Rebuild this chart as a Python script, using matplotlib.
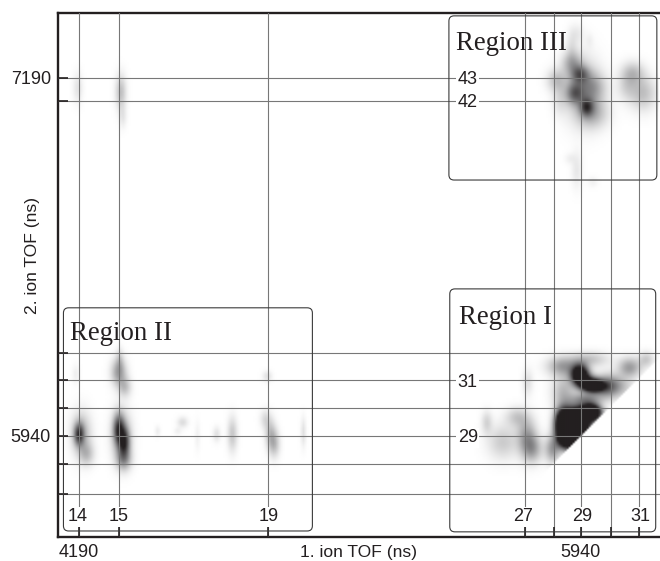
import numpy as np
import matplotlib
matplotlib.use("Agg")
import matplotlib.pyplot as plt
from matplotlib.colors import LinearSegmentedColormap
from matplotlib.patches import FancyBboxPatch

# tick / grid positions (ns)
x_ticks = [4190, 4330, 4850, 5745, 5846, 5940, 6045, 6142]
x_tick_labels = ["4190", "", "", "", "", "5940", "", ""]
y_ticks = [5738, 5842, 5940, 6038, 6135, 6230, 7109, 7190]
y_tick_labels = ["", "", "5940", "", "", "", "", "7190"]

# coincidence islands: x, y, sigma_x, sigma_y, intensity
region_ii = [
    (4187, 5943, 9, 20, .70), (4195, 5945, 18, 40, .32), (4214, 5874, 14, 21, .25),
    (4326, 5961, 10, 28, .70), (4345, 5916, 10, 25, .70), (4335, 5940, 18, 45, .35),
    (4343, 5856, 14, 21, .40),
    (4326, 6160, 14, 25, .42), (4347, 6108, 12, 18, .25), (4329, 6205, 7, 21, .15),
    (4176, 6153, 7, 18, .07), (4462, 5954, 5, 10, .08), (4549, 5985, 10, 10, .15),
    (4532, 5954, 7, 7, .07), (4601, 5937, 5, 28, .06), (4668, 5943, 7, 14, .13),
    (4723, 5943, 9, 32, .24), (4856, 5943, 10, 28, .26), (4870, 5909, 10, 25, .26),
    (4838, 5996, 10, 18, .15), (4845, 6146, 9, 10, .13), (4971, 5950, 5, 28, .13),
]
top_left = [(4183, 7155, 9, 28, .12), (4333, 7141, 10, 32, .27), (4340, 7053, 7, 21, .10)]
region_i = [
    (5880, 5975, 15, 28, 2.0), (5926, 5985, 22, 24, 2.8), (5975, 6020, 18, 14, 2.2),
    (5900, 5925, 18, 18, 1.6), (5937, 6153, 16, 18, 1.5), (5985, 6112, 20, 12, 1.4),
    (5960, 6125, 20, 14, .70),
    (5877, 6181, 28, 18, .40), (5971, 6205, 35, 14, .25), (5880, 6090, 21, 32, .30),
    (6031, 6111, 21, 21, .45), (6111, 6177, 21, 18, .42), (6066, 6111, 28, 21, .32),
    (6170, 6205, 14, 14, .22), (5961, 6066, 28, 12, .45), (5842, 5891, 14, 25, .42),
    (5752, 5933, 18, 35, .40), (5773, 5891, 18, 25, .32), (5717, 6003, 21, 18, .22),
    (5612, 5985, 10, 21, .18), (5668, 5916, 28, 32, .22), (5755, 6125, 10, 25, .13),
]
region_iii = [
    (5937, 7203, 16, 16, .50), (5919, 7137, 16, 20, .50), (5961, 7088, 12, 16, .55),
    (5909, 7242, 18, 21, .30), (5982, 7158, 25, 28, .30), (5982, 7067, 28, 28, .30),
    (5945, 7150, 32, 60, .28),
    (5856, 7182, 18, 21, .25), (5867, 7113, 14, 28, .12), (6121, 7207, 21, 21, .27),
    (6156, 7137, 25, 32, .27), (6100, 7158, 18, 25, .15), (5926, 7346, 14, 18, .08),
    (5909, 7298, 10, 28, .10), (5971, 7322, 7, 14, .05), (5926, 6868, 10, 35, .10),
    (5982, 6826, 10, 10, .06), (5902, 6908, 10, 10, .06),
]
islands = region_ii + top_left + region_i + region_iii

# x0, x1, y0, y1 of each frame
boxes = [(4136, 5004, 5608, 6387), (5483, 6201, 5605, 6453), (5480, 6205, 6833, 7406)]
region_names = [("Region II", 4158, 6296), ("Region I", 5514, 6352), ("Region III", 5503, 7310)]
# inner labels: text, x, y
inner_labels = [("14", 4184, 5664), ("15", 4330, 5664), ("19", 4850, 5664),
                ("27", 5738, 5664), ("29", 5944, 5664), ("31", 6149, 5664),
                ("29", 5546, 5940), ("31", 5546, 6135),
                ("43", 5546, 7190), ("42", 5546, 7109)]

xlim = (4117, 6216)
ylim = (5587, 7416)
BLUR = 1.3

fig = plt.figure(figsize=(6.6, 5.61), dpi=100)
ax = fig.add_axes([58 / 660, 1 - 537 / 561, 602 / 660, 524 / 561])

gx = np.arange(xlim[0], xlim[1] + 1, 7.0)
gy = np.arange(ylim[0], ylim[1] + 1, 7.0)
X, Y = np.meshgrid(gx, gy)
Z = np.zeros_like(X)
for x0, y0, sx, sy, a in islands:
    Z += a * np.exp(-0.5 * (((X - x0) / (sx * BLUR)) ** 2 + ((Y - y0) / (sy * BLUR)) ** 2))
Z[Y < X] = 0  # the second ion always arrives after the first

cmap = LinearSegmentedColormap.from_list("ink", ["#ffffff", "#8a8a8c", "#231f20"])
ax.imshow(Z, origin="lower", extent=(gx[0], gx[-1], gy[0], gy[-1]), cmap=cmap,
          vmin=0, vmax=1, aspect="auto", interpolation="bilinear", zorder=1)
ax.set_xlim(xlim)
ax.set_ylim(ylim)

ax.set_xticks(x_ticks, x_tick_labels)
ax.set_yticks(y_ticks, y_tick_labels)
ax.grid(True, color="#777777", lw=0.8, zorder=2)
ax.set_axisbelow(False)
ax.tick_params(direction="in", length=7.5, width=1.2, color="#231f20", labelsize=13,
               labelcolor="#231f20", pad=5)
plt.setp(ax.get_xticklabels() + ax.get_yticklabels(), family="Liberation Sans")

for s in ("left", "bottom", "top"):
    ax.spines[s].set_linewidth(1.7)
    ax.spines[s].set_color("#231f20")
ax.spines["right"].set_visible(False)

for x0, x1, y0, y1 in boxes:
    ax.add_patch(FancyBboxPatch((x0 + 18, y0 + 18), x1 - x0 - 36, y1 - y0 - 36,
                                boxstyle="round,pad=18,rounding_size=18", fc="none",
                                ec="#3a3a3a", lw=0.8, zorder=3))

for t, x, y in region_names:
    ax.text(x, y, t, family="Liberation Serif", fontsize=19.3, color="#231f20",
            ha="left", va="center", zorder=5)
for t, x, y in inner_labels:
    ax.text(x, y, t, family="Liberation Sans", fontsize=13, color="#231f20", ha="center",
            va="center_baseline", zorder=5,
            bbox=dict(fc="white", ec="none", pad=1.0))

ax.set_xlabel("1. ion TOF (ns)", family="Liberation Sans", fontsize=12.6, color="#231f20")
ax.xaxis.set_label_coords((358.5 - 58) / 602, -15 / 524, transform=ax.transAxes)
ax.xaxis.label.set_va("center")
ax.set_ylabel("2. ion TOF (ns)", family="Liberation Sans", fontsize=12.6, color="#231f20")
ax.yaxis.set_label_coords((32 - 58) / 602, 1 - (255 - 13) / 524, transform=ax.transAxes)
ax.yaxis.label.set_va("center")

fig.savefig("out.png", dpi=100)
